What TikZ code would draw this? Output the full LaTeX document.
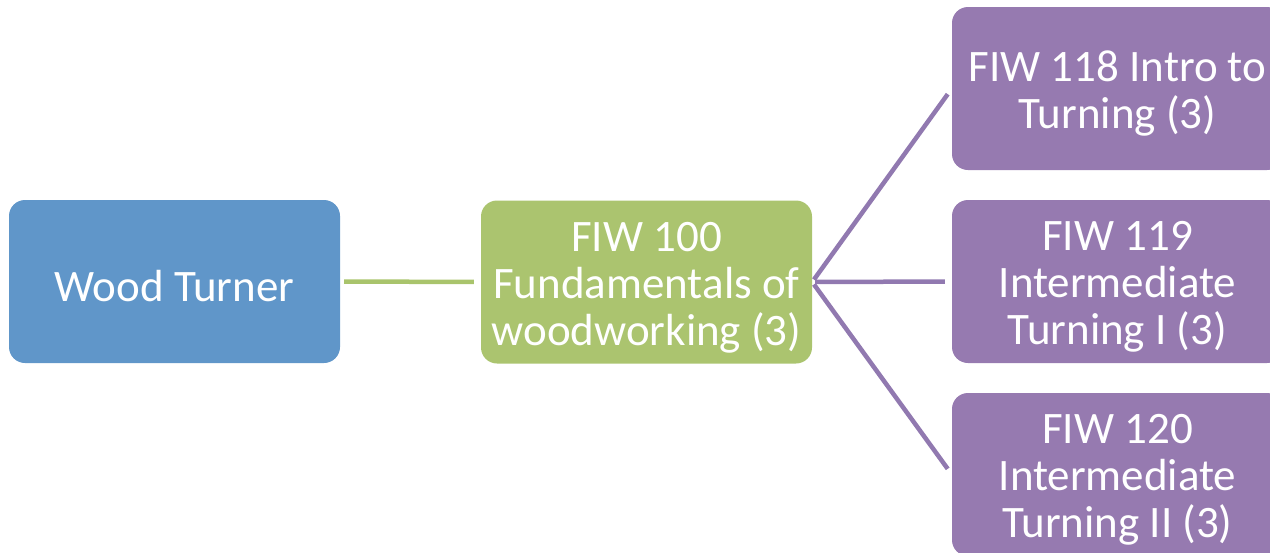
\documentclass[tikz,border=0pt]{standalone}
\usepackage{fontspec}
\setmainfont{Carlito}
\definecolor{cblue}{HTML}{6096C9}
\definecolor{cgreen}{HTML}{ABC46F}
\definecolor{cpurple}{HTML}{967AB0}
\definecolor{lgreen}{HTML}{A9C46C}
\definecolor{lpurple}{HTML}{9179B0}
\newcommand{\topstrut}{\rule{0pt}{40pt}}
\begin{document}
\begin{tikzpicture}[x=1pt,y=-1pt,
  boxst/.style={rectangle, rounded corners=16pt, minimum width=331pt, minimum height=163pt,
    inner sep=0pt, align=center, text=white, font=\fontsize{45}{47}\selectfont},
  link/.style={line width=4.5pt}]
\useasboundingbox (0,0) rectangle (1270,552);
\node[boxst, fill=cblue] (wt) at (174.5,281.5) {\topstrut Wood Turner};
\node[boxst, fill=cgreen] (f100) at (646.5,282) {\topstrut FIW 100\\Fundamentals of\\woodworking (3)};
\node[boxst, fill=cpurple] (f118) at (1117.5,88.5) {\topstrut FIW 118 Intro to\\Turning (3)};
\node[boxst, fill=cpurple] (f119) at (1117.5,281.5) {\topstrut FIW 119\\Intermediate\\Turning I (3)};
\node[boxst, fill=cpurple] (f120) at (1117.5,474.5) {\topstrut FIW 120\\Intermediate\\Turning II (3)};
\draw[link, lgreen, shorten <=4pt, shorten >=7pt] (wt.east) -- (f100.west);
\draw[link, lpurple, shorten <=3pt, shorten >=7pt] (f100.east) -- (f118.west);
\draw[link, lpurple, shorten <=3pt, shorten >=7pt] (f100.east) -- (f119.west);
\draw[link, lpurple, shorten <=3pt, shorten >=7pt] (f100.east) -- (f120.west);
\end{tikzpicture}
\end{document}
